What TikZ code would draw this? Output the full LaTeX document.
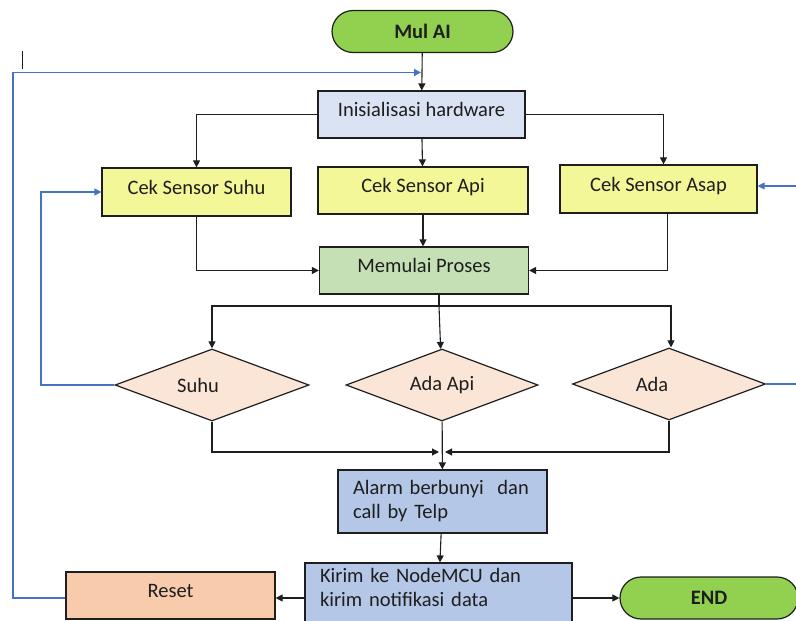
\documentclass[tikz,border=0pt]{standalone}
\usepackage{fontspec}
\setmainfont{Carlito}
\usepackage{tikz}
\usetikzlibrary{%
    arrows.meta,%
    shapes.geometric%
}
\definecolor{startgreen}{HTML}{92D050}
\definecolor{initblue}{HTML}{DAE3F3}
\definecolor{sensoryellow}{HTML}{F3F798}
\definecolor{prosesgreen}{HTML}{C5E0B4}
\definecolor{condpeach}{HTML}{FBE5D6}
\definecolor{kirimblue}{HTML}{B4C7E7}
\definecolor{resetpeach}{HTML}{F8CBAD}
\definecolor{loopblue}{HTML}{4472C4}
\definecolor{inkgray}{HTML}{1E1E1E}

\begin{document}
\begin{tikzpicture}[x=1pt, y=-1pt, >={Triangle[length=7pt,width=7pt]},
  every node/.style={font=\fontsize{20.5}{24}\selectfont, text=inkgray},
  box/.style={draw=inkgray, line width=1.2pt, inner sep=0pt, text height=14pt, text depth=10pt},
  term/.style={draw=inkgray, line width=1.2pt, fill=startgreen, rounded corners=21pt, minimum height=42, inner sep=0pt, font=\fontsize{20.5}{24}\selectfont\bfseries},
  cond/.style={draw=inkgray, diamond, line width=1.2pt, fill=condpeach, aspect=2.7, inner sep=1pt, minimum height=72},
  link/.style={->, draw=inkgray, line width=1.1pt},
  back/.style={->, draw=loopblue, line width=1.3pt}]
  \useasboundingbox (0,0) rectangle (796,621);
  \clip (0,0) rectangle (796,621);

  \node[term, minimum width=181] (mulai) at (422.5,31.5) {Mul AI};
  \node[box, fill=initblue, minimum width=207, minimum height=47] (init) at (421.5,114.5) {Inisialisasi hardware};
  \node[box, fill=sensoryellow, minimum width=189, minimum height=48] (suhu) at (196.5,192) {Cek Sensor Suhu};
  \node[box, fill=sensoryellow, minimum width=210, minimum height=47] (api) at (423,190.5) {Cek Sensor Api};
  \node[box, fill=sensoryellow, minimum width=197, minimum height=48] (asap) at (658.5,189) {Cek Sensor Asap};
  \node[box, fill=prosesgreen, minimum width=209, minimum height=47] (proses) at (424,270.5) {Memulai Proses};
  \node[cond, minimum width=194] (dsuhu) at (212,385) {Suhu\hspace*{28pt}};
  \node[cond, minimum width=192] (dapi) at (442,385) {Ada Api};
  \node[cond, minimum width=193] (dasap) at (669,384) {Ada\hspace*{34pt}};
  \node[box, fill=kirimblue, minimum width=209, minimum height=63, text width=179, align=left, inner xsep=15pt, text depth=29pt] (alarm) at (442.5,501.5) {Alarm berbunyi\ \ dan\\call by Telp};
  \node[box, fill=kirimblue, minimum width=267, minimum height=66, text width=237, align=left, inner xsep=15pt, text depth=41pt] (kirim) at (438.5,596) {Kirim ke NodeMCU dan\\kirim notifikasi data};
  \node[box, fill=resetpeach, minimum width=209, minimum height=47] (reset) at (170.5,595.5) {Reset};
  \node[term, minimum width=178] (end) at (709,598) {END};

  \coordinate (split) at (439,306);
  \coordinate (join) at (442,452);
  \coordinate (reentry) at (421,72.5);
  \coordinate (loopx) at (13,0);
  \coordinate (loopy) at (41,0);
  \coordinate (rim) at (800,0);
  \coordinate (asapin) at ([yshift=3pt]asap.east);

  % alur utama
  \draw[link] (mulai) -- (init);
  \draw[link] (init.west) -| (suhu);
  \draw[link] (init) -- (api);
  \draw[link] (init.east) -| ([xshift=5pt]asap.north);
  \draw[link] (suhu) |- (proses);
  \draw[link] (api) -- (api |- proses.north);
  \draw[link] ([xshift=9pt]asap.south) |- (proses.east);
  \draw[inkgray, line width=1.1pt] (proses.south -| split) -- (split);
  \draw[link] (split) -| (dsuhu);
  \draw[link] (split) -- (dapi);
  \draw[link] (split) -| ([xshift=2pt]dasap.north);
  \draw[link] (dsuhu) |- ([xshift=-3pt]join);
  \draw[link] (dasap) |- ([xshift=3pt]join);
  \draw[link] (dapi) -- (alarm);
  \draw[link] (alarm) -- (kirim);
  \draw[link] (kirim.west |- end) -- (reset.east |- end);
  \draw[link] (kirim.east |- end) -- (end.west);

  % kembali
  \draw[back] (reset.west |- end) -| (loopx |- reentry) -- (reentry);
  \draw[back] (dsuhu.west) -| (loopy |- suhu) -- (suhu.west);
  \draw[back, -] (dasap.east) -- (dasap.east -| rim);
  \draw[back] (rim |- asapin) -- (asapin);
  \draw[inkgray, line width=1.2pt] (22.5,51) -- (22.5,69);
\end{tikzpicture}
\end{document}
